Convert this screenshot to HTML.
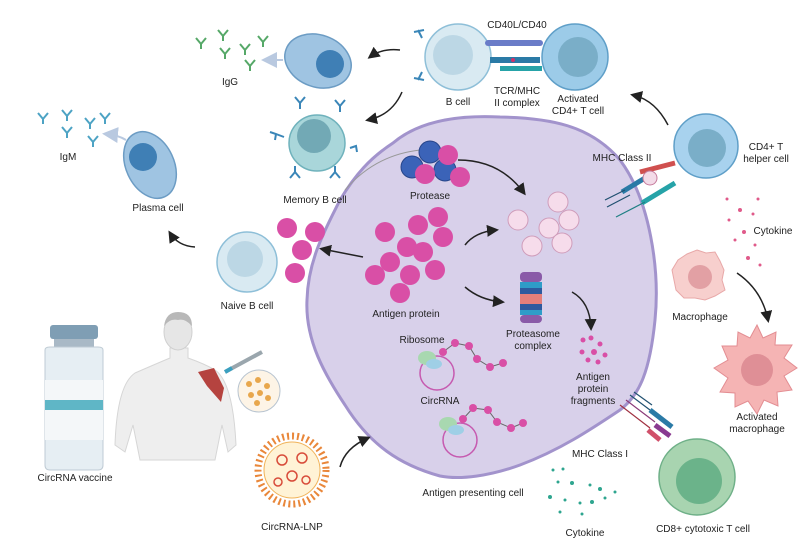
<!DOCTYPE html>
<html><head><meta charset="utf-8"><style>
html,body{margin:0;padding:0;background:#fff}
svg{display:block;font-family:"Liberation Sans",sans-serif}
text{font-size:10px;fill:#222;text-anchor:middle}
</style></head><body>
<svg width="803" height="559" viewBox="0 0 803 559">
<defs>
<marker id="ah" markerWidth="8" markerHeight="8" refX="6" refY="4" orient="auto"><path d="M0,0 L8,4 L0,8 Z" fill="#222"/></marker>
<marker id="ahg" markerWidth="8" markerHeight="8" refX="6" refY="4" orient="auto"><path d="M0,0 L8,4 L0,8 Z" fill="#b9c9e0"/></marker>
</defs>

<!-- APC cell -->
<path d="M393,143 C420,120 460,115 500,117 C550,118 590,125 620,160 C650,200 660,270 655,320 C650,370 640,395 620,410 C590,430 560,450 520,465 C490,476 460,480 440,476 C400,465 370,445 345,405 C325,375 305,340 307,300 C308,260 325,230 340,200 C355,175 370,158 393,143 Z" fill="#d8d0ea" stroke="#a293cc" stroke-width="3"/>

<!-- Vial -->
<rect x="50" y="325" width="48" height="14" rx="3" fill="#7f9eb4"/>
<rect x="54" y="339" width="40" height="8" fill="#a9b9c6"/>
<path d="M45,350 Q45,347 50,347 L98,347 Q103,347 103,350 L103,465 Q103,470 98,470 L50,470 Q45,470 45,465 Z" fill="#e6eef3" stroke="#bfcbd4"/>
<rect x="45" y="380" width="58" height="60" fill="#f4f7f9"/>
<rect x="45" y="400" width="58" height="10" fill="#5fb6c6"/>
<text x="75" y="481">CircRNA vaccine</text>

<!-- Man -->
<path d="M115,445 Q117,385 135,373 Q158,363 170,358 L170,348 L188,348 L188,358 Q205,364 215,370 Q233,382 236,445 L228,452 L222,425 L215,460 L140,460 L133,425 L125,452 Z" fill="#eeeeee" stroke="#d6d6d6"/>
<ellipse cx="178" cy="332" rx="14" ry="18" fill="#e6e6e6" stroke="#d0d0d0"/>
<path d="M164,326 Q166,312 178,312 Q192,312 192,326 Q185,318 178,320 Q170,318 164,326 Z" fill="#b8b8b8"/>
<path d="M198,372 L214,368 L224,388 L221,402 L207,386 Z" fill="#b5433f"/>
<line x1="225" y1="372" x2="262" y2="352" stroke="#9aa6ad" stroke-width="4"/>
<line x1="225" y1="372" x2="232" y2="368" stroke="#3aa0c0" stroke-width="4"/>
<circle cx="259" cy="391" r="21" fill="#fdf4e6" stroke="#b8c4d0"/>
<g fill="#e8a74c"><circle cx="249" cy="384" r="3"/><circle cx="258" cy="380" r="3"/><circle cx="267" cy="386" r="3"/><circle cx="251" cy="395" r="3"/><circle cx="260" cy="393" r="3"/><circle cx="268" cy="398" r="3"/><circle cx="257" cy="403" r="3"/></g>

<!-- LNP -->
<circle cx="292" cy="470" r="34" fill="none" stroke="#e9873a" stroke-width="7" stroke-dasharray="2 3"/>
<circle cx="292" cy="470" r="28" fill="#fff3d6" stroke="#f0b35a"/>
<g fill="none" stroke="#d84c3a" stroke-width="1.5"><circle cx="282" cy="460" r="5"/><circle cx="302" cy="458" r="5"/><circle cx="292" cy="476" r="5"/><circle cx="306" cy="480" r="4"/><circle cx="278" cy="482" r="4"/></g>
<text x="292" y="530">CircRNA-LNP</text>
<path d="M340,467 Q345,448 368,438" fill="none" stroke="#222" stroke-width="1.5" marker-end="url(#ah)"/>

<!-- Naive B cell -->
<circle cx="247" cy="262" r="30" fill="#d9eaf2" stroke="#8ebfd8" stroke-width="1.5"/>
<circle cx="245" cy="259" r="18" fill="#bcd7e5"/>
<text x="247" y="309">Naive B cell</text>
<path d="M195,247 Q178,246 170,233" fill="none" stroke="#222" stroke-width="1.5" marker-end="url(#ah)"/>

<!-- Plasma cell left -->
<ellipse cx="150" cy="165" rx="24" ry="35" transform="rotate(-25 150 165)" fill="#9fc4e2" stroke="#6c9cc4" stroke-width="1.5"/>
<circle cx="143" cy="157" r="14" fill="#3f7fb5"/>
<text x="158" y="211">Plasma cell</text>
<text x="68" y="160">IgM</text>
<g stroke="#4da3c4" stroke-width="2" fill="none"><path d="M38,113 l5,6 l5,-6 M43,119 v5"/><path d="M62,110 l5,6 l5,-6 M67,116 v5"/><path d="M85,118 l5,6 l5,-6 M90,124 v5"/><path d="M100,113 l5,6 l5,-6 M105,119 v5"/><path d="M62,127 l5,6 l5,-6 M67,133 v5"/><path d="M88,136 l5,6 l5,-6 M93,142 v5"/></g>
<path d="M126,140 Q118,135 106,134" stroke="#b9c9e0" stroke-width="2" fill="none" marker-end="url(#ahg)"/>

<!-- Plasma cell top -->
<ellipse cx="318" cy="61" rx="34" ry="26" transform="rotate(20 318 61)" fill="#9fc4e2" stroke="#6c9cc4" stroke-width="1.5"/>
<circle cx="330" cy="64" r="14" fill="#3f7fb5"/>
<text x="230" y="85">IgG</text>
<g stroke="#56a868" stroke-width="2" fill="none"><path d="M196,38 l5,6 l5,-6 M201,44 v5"/><path d="M218,30 l5,6 l5,-6 M223,36 v5"/><path d="M220,48 l5,6 l5,-6 M225,54 v5"/><path d="M240,44 l5,6 l5,-6 M245,50 v5"/><path d="M258,36 l5,6 l5,-6 M263,42 v5"/><path d="M245,60 l5,6 l5,-6 M250,66 v5"/></g>
<path d="M283,60 L265,60" stroke="#b9c9e0" stroke-width="2" marker-end="url(#ahg)"/>
<path d="M400,50 Q382,48 370,57" fill="none" stroke="#222" stroke-width="1.5" marker-end="url(#ah)"/>
<path d="M402,92 Q392,115 368,120" fill="none" stroke="#222" stroke-width="1.5" marker-end="url(#ah)"/>

<!-- Memory B cell -->
<g stroke="#3a86b8" stroke-width="2" fill="none"><path d="M295,97 l5,6 l5,-6 M300,103 v6"/><path d="M335,100 l5,6 l5,-6 M340,106 v6"/><path d="M270,132 l6,2 l-1,6 M276,134 l8,3"/><path d="M350,148 l6,-2 l1,6 M356,146 l-6,2"/><path d="M290,178 l5,-6 l5,6 M295,172 v-6"/><path d="M330,178 l5,-6 l5,6 M335,172 v-6"/></g>
<circle cx="317" cy="143" r="28" fill="#a9d6da" stroke="#6fb2bc" stroke-width="1.5"/>
<circle cx="314" cy="136" r="17" fill="#72a9b5"/>
<text x="315" y="203">Memory B cell</text>
<path d="M345,190 Q375,155 420,150" fill="none" stroke="#999" stroke-width="1"/>

<!-- B cell / Activated CD4 -->
<g stroke="#3a86b8" stroke-width="2" fill="none"><path d="M418,30 l4,8 M414,32 l10,-2"/><path d="M418,80 l4,-8 M414,78 l10,2"/></g>
<circle cx="458" cy="57" r="33" fill="#d9eaf2" stroke="#8ebfd8" stroke-width="1.5"/>
<circle cx="453" cy="55" r="20" fill="#bcd7e5"/>
<circle cx="575" cy="57" r="33" fill="#9ccbe8" stroke="#5f9fc8" stroke-width="1.5"/>
<circle cx="578" cy="57" r="20" fill="#7aaec8"/>
<text x="517" y="28">CD40L/CD40</text>
<rect x="485" y="40" width="58" height="6" rx="3" fill="#6a7cc8"/>
<rect x="490" y="57" width="50" height="6" fill="#2a7aa6"/>
<rect x="500" y="66" width="42" height="5" fill="#26a3a8"/>
<circle cx="513" cy="60" r="2" fill="#d0306a"/>
<text x="517" y="94">TCR/MHC</text><text x="517" y="106">II complex</text>
<text x="458" y="105">B cell</text>
<text x="578" y="102">Activated</text><text x="578" y="114">CD4+ T cell</text>
<path d="M668,125 Q655,100 633,95" fill="none" stroke="#222" stroke-width="1.5" marker-end="url(#ah)"/>

<!-- CD4 T helper -->
<circle cx="706" cy="146" r="32" fill="#a8d2ee" stroke="#5f9fc8" stroke-width="1.5"/>
<circle cx="707" cy="148" r="19" fill="#7aaec8"/>
<text x="766" y="150">CD4+ T</text><text x="766" y="162">helper cell</text>
<text x="622" y="161">MHC Class II</text>
<g stroke-width="5"><line x1="622" y1="192" x2="650" y2="175" stroke="#2a7aa6"/><line x1="640" y1="172" x2="675" y2="163" stroke="#d0504f"/><line x1="642" y1="203" x2="675" y2="183" stroke="#26a3a8"/></g>
<g stroke-width="1.2"><line x1="605" y1="200" x2="625" y2="190" stroke="#205070"/><line x1="607" y1="207" x2="630" y2="195" stroke="#205070"/><line x1="616" y1="217" x2="645" y2="202" stroke="#1f7f84"/></g>
<circle cx="650" cy="178" r="7" fill="#f3dbe8" stroke="#c67a9c"/>

<!-- Protease -->
<g fill="#3b63b8" stroke="#27458a"><circle cx="430" cy="152" r="11"/><circle cx="412" cy="167" r="11"/><circle cx="445" cy="170" r="11"/></g>
<g fill="#d94fa6"><circle cx="448" cy="155" r="10"/><circle cx="425" cy="174" r="10"/><circle cx="460" cy="177" r="10"/></g>
<text x="430" y="199">Protease</text>
<path d="M458,160 Q500,160 524,193" fill="none" stroke="#222" stroke-width="1.5" marker-end="url(#ah)"/>

<!-- light pink circles -->
<g fill="#f6dceb" stroke="#cf9cba"><circle cx="558" cy="202" r="10"/><circle cx="518" cy="220" r="10"/><circle cx="549" cy="228" r="10"/><circle cx="569" cy="220" r="10"/><circle cx="532" cy="246" r="10"/><circle cx="562" cy="243" r="10"/></g>
<path d="M465,245 Q475,232 496,230" fill="none" stroke="#222" stroke-width="1.5" marker-end="url(#ah)"/>

<!-- Antigen protein -->
<g fill="#d94fa6"><circle cx="385" cy="232" r="10"/><circle cx="418" cy="225" r="10"/><circle cx="438" cy="217" r="10"/><circle cx="443" cy="237" r="10"/><circle cx="407" cy="247" r="10"/><circle cx="423" cy="252" r="10"/><circle cx="390" cy="262" r="10"/><circle cx="375" cy="275" r="10"/><circle cx="410" cy="275" r="10"/><circle cx="435" cy="270" r="10"/><circle cx="400" cy="293" r="10"/></g>
<text x="406" y="317">Antigen protein</text>
<g fill="#d94fa6"><circle cx="287" cy="228" r="10"/><circle cx="315" cy="232" r="10"/><circle cx="302" cy="250" r="10"/><circle cx="295" cy="273" r="10"/></g>
<path d="M363,257 L322,249" stroke="#222" stroke-width="1.5" marker-end="url(#ah)"/>
<path d="M465,287 Q480,300 502,302" fill="none" stroke="#222" stroke-width="1.5" marker-end="url(#ah)"/>

<!-- Proteasome -->
<rect x="520" y="272" width="22" height="10" rx="4" fill="#8a5aa8"/>
<rect x="520" y="282" width="22" height="6" fill="#2f9cc8"/>
<rect x="520" y="288" width="22" height="6" fill="#2e5a9e"/>
<rect x="520" y="294" width="22" height="10" fill="#e47f7a"/>
<rect x="520" y="304" width="22" height="6" fill="#2e5a9e"/>
<rect x="520" y="310" width="22" height="5" fill="#2f9cc8"/>
<rect x="520" y="315" width="22" height="8" rx="4" fill="#8a5aa8"/>
<text x="533" y="337">Proteasome</text><text x="533" y="349">complex</text>
<path d="M572,292 Q590,302 591,328" fill="none" stroke="#222" stroke-width="1.5" marker-end="url(#ah)"/>
<g fill="#d94fa6"><circle cx="583" cy="340" r="2.5"/><circle cx="591" cy="338" r="2.5"/><circle cx="600" cy="344" r="2.5"/><circle cx="582" cy="352" r="2.5"/><circle cx="594" cy="352" r="3"/><circle cx="605" cy="355" r="2.5"/><circle cx="588" cy="360" r="2.5"/><circle cx="598" cy="362" r="2.5"/></g>
<text x="593" y="380">Antigen</text><text x="593" y="392">protein</text><text x="593" y="404">fragments</text>

<!-- CircRNA -->
<text x="422" y="343">Ribosome</text>
<circle cx="437" cy="373" r="17" fill="none" stroke="#c65ab0" stroke-width="1.5"/>
<ellipse cx="427" cy="358" rx="9" ry="7" fill="#a8d8b0"/>
<ellipse cx="434" cy="364" rx="8" ry="5" fill="#9fcfe6"/>
<polyline points="443,352 455,343 469,346 477,359 490,367 503,363" fill="none" stroke="#666" stroke-width="1"/>
<g fill="#d94fa6"><circle cx="443" cy="352" r="4"/><circle cx="455" cy="343" r="4"/><circle cx="469" cy="346" r="4"/><circle cx="477" cy="359" r="4"/><circle cx="490" cy="367" r="4"/><circle cx="503" cy="363" r="4"/></g>
<text x="440" y="404">CircRNA</text>
<circle cx="460" cy="440" r="17" fill="none" stroke="#c65ab0" stroke-width="1.5"/>
<ellipse cx="448" cy="424" rx="9" ry="7" fill="#a8d8b0"/>
<ellipse cx="456" cy="430" rx="8" ry="5" fill="#9fcfe6"/>
<polyline points="463,419 473,408 488,410 497,422 511,428 523,423" fill="none" stroke="#666" stroke-width="1"/>
<g fill="#d94fa6"><circle cx="463" cy="419" r="4"/><circle cx="473" cy="408" r="4"/><circle cx="488" cy="410" r="4"/><circle cx="497" cy="422" r="4"/><circle cx="511" cy="428" r="4"/><circle cx="523" cy="423" r="4"/></g>
<text x="473" y="496">Antigen presenting cell</text>

<!-- MHC I -->
<g stroke-width="1.2"><line x1="620" y1="405" x2="650" y2="428" stroke="#a03040"/><line x1="626" y1="400" x2="655" y2="422" stroke="#8a3a78"/><line x1="630" y1="395" x2="650" y2="410" stroke="#205070"/><line x1="634" y1="392" x2="652" y2="405" stroke="#205070"/></g>
<g stroke-width="5"><line x1="650" y1="410" x2="672" y2="427" stroke="#2a7aa6"/><line x1="655" y1="425" x2="670" y2="436" stroke="#8a3a90"/><line x1="648" y1="430" x2="660" y2="440" stroke="#d0506a"/></g>
<text x="600" y="457">MHC Class I</text>
<circle cx="697" cy="477" r="38" fill="#a8d4b0" stroke="#6fb088" stroke-width="1.5"/>
<circle cx="699" cy="481" r="23" fill="#6bb38a"/>
<text x="703" y="532">CD8+ cytotoxic T cell</text>
<g fill="#2ea58f"><circle cx="553" cy="470" r="1.5"/><circle cx="563" cy="469" r="1.5"/><circle cx="558" cy="482" r="1.5"/><circle cx="572" cy="483" r="2"/><circle cx="590" cy="485" r="1.5"/><circle cx="600" cy="489" r="2"/><circle cx="550" cy="497" r="2"/><circle cx="565" cy="500" r="1.5"/><circle cx="580" cy="503" r="1.5"/><circle cx="592" cy="502" r="2"/><circle cx="605" cy="498" r="1.5"/><circle cx="615" cy="492" r="1.5"/><circle cx="560" cy="512" r="1.5"/><circle cx="582" cy="514" r="1.5"/></g>
<text x="585" y="536">Cytokine</text>

<!-- Macrophage -->
<path d="M697,250 L706,253 L715,252 L720,261 L724,270 L722,280 L725,290 L715,296 L705,300 L695,298 L684,298 L676,290 L674,280 L672,270 L678,260 L687,254 Z" fill="#f7cfcd" stroke="#e8a8a8"/>
<circle cx="700" cy="277" r="12" fill="#e2a0a4"/>
<text x="700" y="320">Macrophage</text>
<g fill="#e05a8a"><circle cx="727" cy="199" r="1.5"/><circle cx="740" cy="210" r="2"/><circle cx="758" cy="199" r="1.5"/><circle cx="729" cy="220" r="1.5"/><circle cx="744" cy="232" r="2"/><circle cx="753" cy="214" r="1.5"/><circle cx="735" cy="240" r="1.5"/><circle cx="755" cy="245" r="1.5"/><circle cx="748" cy="258" r="2"/><circle cx="760" cy="265" r="1.5"/></g>
<text x="773" y="234">Cytokine</text>
<path d="M737,273 Q762,290 768,320" fill="none" stroke="#222" stroke-width="1.5" marker-end="url(#ah)"/>
<path d="M757,325 L763,338 L776,332 L775,345 L792,345 L784,358 L797,368 L784,376 L792,390 L777,392 L778,406 L764,400 L757,414 L748,401 L735,407 L735,393 L720,392 L728,378 L714,368 L728,360 L722,346 L737,346 L738,332 L750,338 Z" fill="#f5b4b4" stroke="#e38d92"/>
<circle cx="757" cy="370" r="16" fill="#df8f96"/>
<text x="757" y="420">Activated</text><text x="757" y="432">macrophage</text>
</svg>
</body></html>
